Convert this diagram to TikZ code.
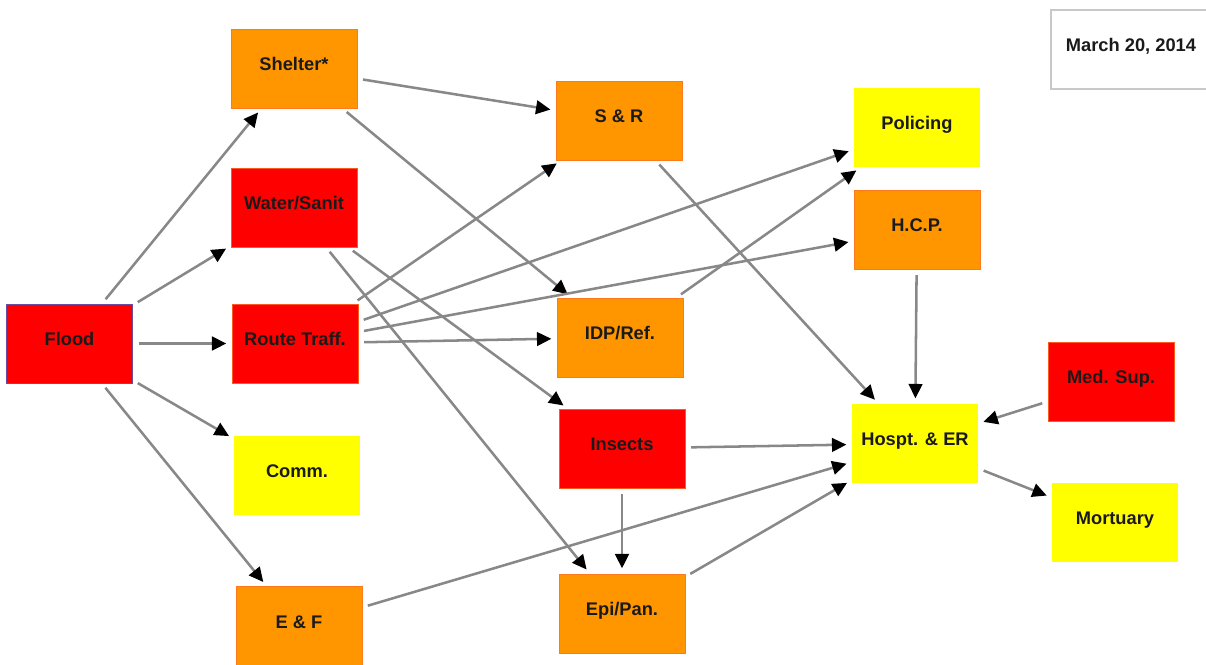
\documentclass[tikz,border=0pt]{standalone}
\usepackage{fontspec}
\setmainfont{Liberation Sans}
\usetikzlibrary{arrows.meta}

\definecolor{boxred}{HTML}{FF0000}
\definecolor{boxorange}{HTML}{FF9600}
\definecolor{boxyellow}{HTML}{FFFF00}
\definecolor{edgered}{HTML}{FF5A1E}
\definecolor{edgeorange}{HTML}{FF7A1E}
\definecolor{edgeflood}{HTML}{6A4CA0}
\definecolor{linkgray}{HTML}{888888}
\definecolor{dategray}{HTML}{C8C8C8}
\definecolor{textblack}{HTML}{1A1A1A}

\begin{document}
\begin{tikzpicture}[x=0.025cm, y=-0.025cm,
  box/.style={minimum width=3.15cm, minimum height=1.975cm, inner sep=0pt,
    text height=0.33cm, text depth=0.225cm,
    font=\fontsize{13}{15}\selectfont\bfseries, text=textblack, line width=0.6pt},
  redbox/.style={box, fill=boxred, draw=edgered},
  orangebox/.style={box, fill=boxorange, draw=edgeorange},
  yellowbox/.style={box, fill=boxyellow},
  link/.style={draw=linkgray, line width=1.8pt, shorten <=1.4mm, shorten >=1.3mm,
    -{Triangle[length=3.6mm, width=3.4mm, color=black]}}]

\useasboundingbox (0,0) rectangle (1206,665);
\clip (0,0) rectangle (1206,665);

% sources
\node[name=flood, box, fill=boxred, draw=edgeflood] at (69.5,343.5) {Flood};

% first column
\node[name=shelter, orangebox] at (294,68.5) {Shelter*};
\node[name=water, redbox] at (294,207.5) {Water/Sanit};
\node[name=route, redbox] at (295,343.5) {Route Traff.};
\node[name=comm, yellowbox] at (297,475.5) {Comm.};
\node[name=ef, orangebox] at (299,626) {E \& F};

% second column
\node[name=sr, orangebox] at (619,120.5) {S \& R};
\node[name=idp, orangebox] at (620,337.5) {IDP/Ref.};
\node[name=insects, redbox] at (622,448.5) {Insects};
\node[name=epi, orangebox] at (622,613.5) {Epi/Pan.};

% third column
\node[name=policing, yellowbox] at (917,127.5) {Policing};
\node[name=hcp, orangebox] at (917,229.5) {H.C.P.};
\node[name=hosp, yellowbox] at (915,443.5) {Hospt. \& ER};

% right
\node[name=medsup, redbox] at (1111,381.5) {Med. Sup.};
\node[name=mortuary, yellowbox] at (1115,522.5) {Mortuary};

\node[name=date, box, draw=dategray, line width=1.4pt, minimum width=4cm, fill=white] at (1131,49.5) {March 20, 2014};

\draw[link] (flood) -- (shelter);
\draw[link] (flood) -- (water);
\draw[link] (flood) -- (route);
\draw[link] (flood) -- (comm);
\draw[link] (flood) -- (ef);
\draw[link] (shelter) -- (sr);
\draw[link] (shelter) -- (idp);
\draw[link] (water) -- (insects);
\draw[link] (water) -- (epi);
\draw[link] (route) -- (sr);
\draw[link] (route) -- (policing);
\draw[link] (route) -- (hcp);
\draw[link] (route) -- (idp);
\draw[link] (sr) -- (hosp);
\draw[link] (idp) -- (policing);
\draw[link] (hcp) -- (hosp);
\draw[link] (insects) -- (hosp);
\draw[link] (insects) -- (epi);
\draw[link] (ef) -- (hosp);
\draw[link] (epi) -- (hosp);
\draw[link] (medsup) -- (hosp);
\draw[link] (hosp) -- (mortuary);
\end{tikzpicture}
\end{document}
